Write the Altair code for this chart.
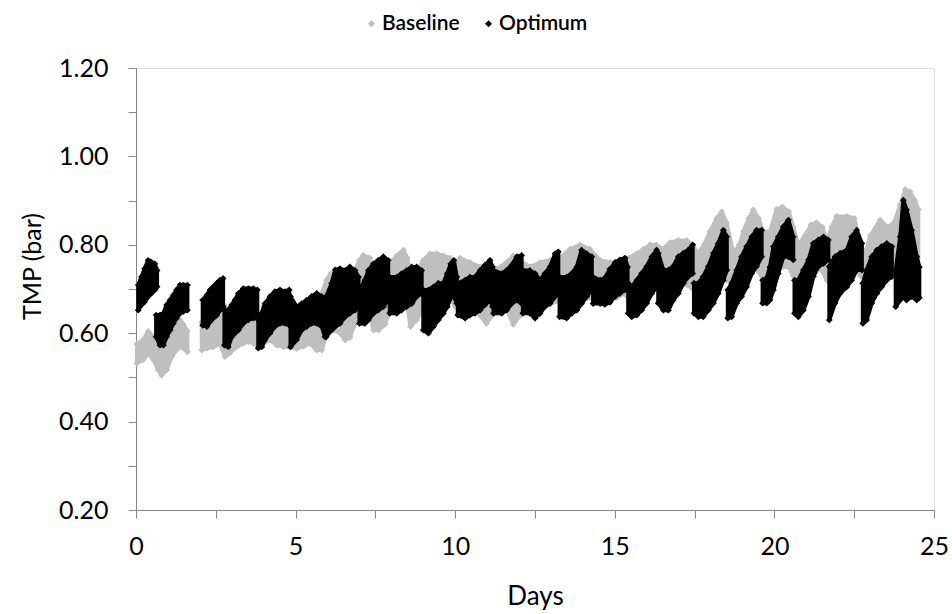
import altair as alt
import pandas as pd

# ---------------- Optimum (black): per-cycle column envelopes
opt_day = [0.07,0.17,0.27,0.38,0.48,0.59,0.66,
           0.63,0.75,0.86,0.96,1.07,1.17,1.27,1.38,1.48,1.61,
           2.09,2.22,2.32,2.42,2.53,2.63,2.73,
           2.77,2.89,3.0,3.1,3.21,3.36,3.52,3.68,3.80,
           3.83,3.94,4.04,4.2,4.35,4.51,4.67,4.80,
           4.84,5.03,5.19,5.35,5.50,5.66,5.82,5.92,
           5.96,6.13,6.24,6.39,6.55,6.70,6.86,6.97,
           7.0,7.17,7.28,7.44,7.59,7.75,7.90,
           7.95,8.17,8.32,8.48,8.64,8.79,8.95,
           9.0,9.16,9.32,9.47,9.63,9.75,9.86,9.96,10.05,
           10.08,10.31,10.46,10.62,10.78,10.93,11.09,11.17,
           11.2,11.46,11.61,11.77,11.93,12.08,
           12.12,12.34,12.50,12.66,12.81,12.97,13.13,13.23,
           13.27,13.49,13.65,13.81,13.96,14.12,14.28,
           14.32,14.54,14.69,14.85,15.01,15.16,15.32,15.40,
           15.42,15.53,15.69,15.84,16.0,16.16,16.31,
           16.36,16.52,16.68,16.83,16.99,17.15,17.30,17.44,
           17.48,17.62,17.77,17.93,18.09,18.24,18.40,18.51,
           18.54,18.66,18.82,18.97,19.13,19.29,19.44,19.60,
           19.63,19.76,19.86,19.97,20.12,20.28,20.44,20.59,
           20.63,20.75,20.91,21.07,21.22,21.38,21.54,21.69,
           21.72,21.90,22.06,22.27,22.42,22.58,22.74,
           22.77,22.89,23.05,23.21,23.36,23.52,23.68,
           23.80,23.94,24.04,24.14,24.30,24.46,24.54]
opt_lo = [0.652,0.664,0.671,0.683,0.690,0.698,0.705,
          0.592,0.573,0.573,0.592,0.607,0.622,0.634,0.645,0.649,0.652,
          0.618,0.615,0.626,0.634,0.641,0.652,0.660,
          0.573,0.569,0.592,0.600,0.607,0.622,0.630,0.634,0.641,
          0.566,0.569,0.585,0.600,0.615,0.622,0.622,0.618,
          0.569,0.585,0.607,0.615,0.622,0.622,0.615,0.592,
          0.592,0.607,0.615,0.622,0.637,0.645,0.652,0.667,
          0.622,0.622,0.630,0.645,0.652,0.660,0.675,
          0.645,0.645,0.652,0.660,0.667,0.683,0.690,
          0.607,0.600,0.615,0.630,0.645,0.660,0.680,0.683,0.667,
          0.641,0.634,0.641,0.645,0.652,0.664,0.675,0.660,
          0.645,0.645,0.652,0.667,0.675,0.667,
          0.645,0.645,0.634,0.645,0.660,0.667,0.683,0.698,
          0.637,0.634,0.645,0.652,0.667,0.683,0.698,
          0.667,0.667,0.665,0.670,0.683,0.690,0.698,0.710,
          0.645,0.637,0.641,0.652,0.668,0.690,0.705,
          0.668,0.652,0.652,0.675,0.690,0.713,0.728,0.735,
          0.645,0.637,0.637,0.652,0.668,0.690,0.720,0.743,
          0.634,0.637,0.668,0.683,0.705,0.735,0.751,0.773,
          0.668,0.668,0.675,0.698,0.735,0.773,0.773,0.766,
          0.645,0.637,0.652,0.683,0.728,0.751,0.758,0.766,
          0.630,0.668,0.690,0.705,0.720,0.743,0.743,
          0.622,0.630,0.668,0.690,0.705,0.720,0.728,
          0.660,0.675,0.683,0.675,0.683,0.675,0.680]
opt_hi = [0.709,0.727,0.746,0.765,0.761,0.757,0.742,
          0.641,0.641,0.645,0.664,0.675,0.686,0.698,0.709,0.709,0.709,
          0.675,0.686,0.698,0.705,0.713,0.720,0.724,
          0.652,0.652,0.664,0.675,0.690,0.701,0.701,0.701,0.698,
          0.630,0.645,0.667,0.683,0.694,0.698,0.694,0.698,
          0.683,0.660,0.667,0.675,0.683,0.690,0.683,0.667,
          0.683,0.713,0.743,0.746,0.742,0.750,0.742,0.727,
          0.698,0.720,0.742,0.757,0.765,0.773,0.765,
          0.727,0.727,0.735,0.742,0.750,0.750,0.742,
          0.698,0.698,0.705,0.713,0.713,0.735,0.757,0.765,0.727,
          0.713,0.720,0.727,0.727,0.742,0.754,0.765,0.750,
          0.742,0.735,0.742,0.754,0.773,0.776,
          0.742,0.742,0.735,0.720,0.735,0.750,0.780,0.784,
          0.727,0.727,0.735,0.750,0.788,0.780,0.773,
          0.727,0.720,0.725,0.745,0.760,0.766,0.770,0.750,
          0.713,0.705,0.720,0.735,0.751,0.773,0.788,
          0.781,0.743,0.743,0.751,0.773,0.781,0.788,0.800,
          0.713,0.713,0.728,0.751,0.781,0.803,0.833,0.818,
          0.698,0.713,0.743,0.773,0.796,0.818,0.833,0.833,
          0.720,0.725,0.750,0.796,0.818,0.841,0.856,0.818,
          0.720,0.720,0.743,0.766,0.803,0.811,0.818,0.811,
          0.751,0.773,0.781,0.788,0.818,0.833,0.803,
          0.713,0.743,0.773,0.788,0.796,0.803,0.796,
          0.743,0.818,0.901,0.879,0.833,0.773,0.750]
opt_cycle = ([1]*7 + [2]*10 + [3]*7 + [4]*9 + [5]*8 + [6]*8 + [7]*8 + [8]*7 + [9]*7
             + [10]*9 + [11]*8 + [12]*6 + [13]*8 + [14]*7 + [15]*8 + [16]*7 + [17]*8
             + [18]*8 + [19]*8 + [20]*8 + [21]*8 + [22]*7 + [23]*7 + [24]*7)

# ---------------- Baseline (grey)
base_day = [0.03,0.23,0.38,0.54,0.70,0.80,0.96,1.12,1.27,1.38,1.48,1.61,
            2.06,2.22,2.42,2.63,2.79,2.94,3.15,3.36,3.52,3.68,3.83,3.99,4.2,4.41,4.62,
            4.82,5.03,5.24,5.45,5.66,5.82,5.97,6.1,6.2,6.39,6.55,6.70,6.85,7.0,7.12,
            7.33,7.44,7.6,7.8,7.96,8.17,8.38,8.5,8.6,8.79,9.0,9.21,9.42,9.63,9.84,
            10.0,10.15,10.46,10.78,10.98,11.15,11.30,11.61,11.82,12.03,12.34,12.66,
            12.97,13.28,13.60,13.91,14.22,14.54,14.85,15.06,15.3,15.43,15.69,15.9,
            16.1,16.3,16.5,16.73,16.99,17.25,17.45,17.6,17.8,17.98,18.2,18.35,18.5,
            18.72,18.9,19.03,19.2,19.34,19.5,19.65,19.86,20.07,20.25,20.45,20.59,
            20.75,20.95,21.15,21.32,21.5,21.64,21.8,21.95,22.27,22.5,22.7,22.85,
            23.0,23.31,23.55,23.75,23.94,24.1,24.25,24.4,24.51]
base_lo = [0.532,0.540,0.555,0.540,0.517,0.505,0.517,0.547,0.562,0.570,0.566,0.558,
           0.562,0.566,0.569,0.575,0.547,0.555,0.569,0.577,0.581,0.577,0.569,0.577,0.585,0.573,0.569,
           0.569,0.565,0.570,0.577,0.562,0.562,0.600,0.620,0.607,0.600,0.585,0.590,0.620,0.660,0.670,
           0.640,0.607,0.607,0.620,0.650,0.680,0.690,0.660,0.615,0.630,0.660,0.680,0.690,0.690,0.680,
           0.660,0.660,0.660,0.640,0.622,0.640,0.650,0.655,0.620,0.640,0.665,0.667,
           0.667,0.672,0.675,0.675,0.680,0.680,0.680,0.680,0.690,0.680,0.690,0.700,
           0.700,0.700,0.700,0.710,0.720,0.710,0.700,0.700,0.710,0.720,0.730,0.740,0.720,
           0.720,0.720,0.730,0.740,0.750,0.740,0.720,0.720,0.740,0.750,0.750,0.730,
           0.720,0.730,0.740,0.750,0.740,0.720,0.740,0.750,0.760,0.760,0.730,0.720,
           0.730,0.750,0.760,0.760,0.780,0.780,0.760,0.740,0.740]
base_hi = [0.575,0.585,0.604,0.592,0.580,0.565,0.585,0.605,0.620,0.630,0.620,0.605,
           0.625,0.630,0.640,0.650,0.660,0.615,0.625,0.635,0.645,0.645,0.630,0.660,0.665,0.670,0.665,
           0.660,0.640,0.640,0.650,0.660,0.690,0.720,0.735,0.730,0.700,0.670,0.700,0.740,0.765,0.776,
           0.770,0.720,0.700,0.730,0.760,0.775,0.788,0.770,0.730,0.740,0.765,0.780,0.780,0.775,0.770,
           0.750,0.770,0.760,0.750,0.740,0.740,0.745,0.760,0.775,0.765,0.750,0.760,
           0.765,0.770,0.790,0.800,0.790,0.765,0.760,0.760,0.770,0.770,0.780,0.790,
           0.800,0.800,0.790,0.805,0.810,0.810,0.800,0.780,0.800,0.830,0.860,0.875,0.850,
           0.780,0.800,0.830,0.860,0.879,0.860,0.830,0.830,0.880,0.886,0.875,0.840,
           0.800,0.820,0.845,0.850,0.840,0.810,0.840,0.864,0.864,0.860,0.800,0.780,
           0.820,0.856,0.840,0.850,0.890,0.925,0.920,0.900,0.880]
base_cycle = [1]*12 + [2]*(len(base_day) - 12)

GREY = "#bfbfbf"
BLACK = "#000000"
FONT = "Lato"

base_df = pd.DataFrame({"day": base_day, "lo": base_lo, "hi": base_hi,
                        "cycle": base_cycle, "series": "Baseline"})
opt_df = pd.DataFrame({"day": opt_day, "lo": opt_lo, "hi": opt_hi,
                       "cycle": opt_cycle, "series": "Optimum"})

x_enc = alt.X("day:Q",
              scale=alt.Scale(domain=[0, 25], nice=False, zero=False),
              axis=alt.Axis(values=[0, 2.5, 5, 7.5, 10, 12.5, 15, 17.5, 20, 22.5, 25],
                            labelExpr="datum.value % 5 == 0 ? datum.label : ''",
                            title="Days", grid=False, tickSize=8, labelFlush=False,
                            labelOverlap=False, labelFontSize=25, labelFont=FONT,
                            labelColor="#000000", labelPadding=16,
                            titleFontSize=26, titleFont=FONT, titleFontWeight="normal",
                            titleColor="#000000", titlePadding=24,
                            domainColor="#868686", tickColor="#868686"))
y_axis = alt.Axis(values=[0.2, 0.3, 0.4, 0.5, 0.6, 0.7, 0.8, 0.9, 1.0, 1.1, 1.2],
                  labelExpr="round(datum.value * 10) % 2 == 0 ? format(datum.value, '.2f') : ''",
                  title="TMP (bar)", grid=False, tickSize=8, labelFlush=False,
                  labelOverlap=False, labelFontSize=25, labelFont=FONT,
                  labelColor="#000000", labelPadding=20,
                  titleFontSize=25, titleFont=FONT, titleFontWeight="normal",
                  titleColor="#000000", titleX=-91, titleY=198,
                  domainColor="#868686", tickColor="#868686")
y_scale = alt.Scale(domain=[0.2, 1.2], nice=False, zero=False)

color = alt.Color("series:N",
                  scale=alt.Scale(domain=["Baseline", "Optimum"], range=[GREY, BLACK]),
                  legend=alt.Legend(title=None, orient="none", direction="horizontal",
                                    legendX=225, legendY=-55, symbolType="diamond",
                                    symbolSize=50, symbolStrokeWidth=0,
                                    labelFont=FONT, labelFontSize=21, labelFontWeight=600,
                                    labelColor="#000000", columnPadding=18, labelOffset=0))


def area_layer(df, col):
    return alt.Chart(df).mark_area(color=col, opacity=1, stroke=col, strokeWidth=4,
                                   strokeJoin="round").encode(
        x=x_enc,
        y=alt.Y("lo:Q", scale=y_scale, axis=y_axis),
        y2="hi:Q",
        detail="cycle:N",
    )


def point_layer(df):
    return alt.Chart(df).transform_fold(["lo", "hi"], as_=["edge", "tmp"]).mark_point(
        shape="diamond", filled=True, size=46, opacity=1
    ).encode(
        x=x_enc,
        y=alt.Y("tmp:Q", scale=y_scale, axis=y_axis),
        color=color,
    )


chart = alt.layer(
    area_layer(base_df, GREY),
    point_layer(base_df),
    area_layer(opt_df, BLACK),
    point_layer(opt_df),
).properties(
    width=798, height=442,
    autosize=alt.AutoSizeParams(type="none"),
    padding={"left": 136, "top": 68, "right": 18, "bottom": 104},
).configure_view(stroke=None).configure(background="white")

chart.save("out.html", embed_options={"renderer": "svg", "actions": False})
